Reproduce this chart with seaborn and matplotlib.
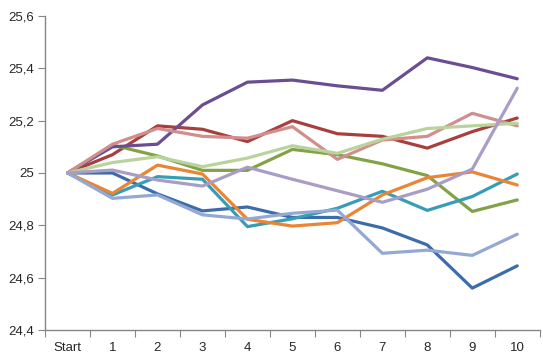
import pandas as pd
import seaborn as sbn
import matplotlib.pyplot as plt
from matplotlib.ticker import FixedLocator, FuncFormatter

# etiquetas del eje x
pasos = ["Start", "1", "2", "3", "4", "5", "6", "7", "8", "9", "10"]

serie_1 = [25.0, 25.0, 24.92, 24.855, 24.87, 24.83, 24.83, 24.79, 24.725, 24.56, 24.645]
serie_2 = [25.0, 25.07, 25.18, 25.167, 25.12, 25.2, 25.15, 25.14, 25.095, 25.158, 25.21]
serie_3 = [25.0, 25.107, 25.065, 25.01, 25.01, 25.09, 25.07, 25.035, 24.99, 24.853, 24.897]
serie_4 = [25.0, 25.1, 25.11, 25.26, 25.347, 25.355, 25.333, 25.316, 25.44, 25.403, 25.36]
serie_5 = [25.0, 24.916, 24.986, 24.976, 24.795, 24.825, 24.865, 24.93, 24.857, 24.91, 24.996]
serie_6 = [25.0, 24.922, 25.03, 24.996, 24.823, 24.797, 24.81, 24.916, 24.982, 25.004, 24.954]
serie_7 = [25.0, 24.903, 24.916, 24.84, 24.824, 24.846, 24.858, 24.693, 24.705, 24.685, 24.766]
serie_8 = [25.0, 25.11, 25.17, 25.14, 25.133, 25.177, 25.052, 25.126, 25.14, 25.228, 25.18]
serie_9 = [25.0, 25.04, 25.062, 25.024, 25.057, 25.104, 25.075, 25.129, 25.17, 25.18, 25.19]
serie_10 = [25.0, 25.011, 24.973, 24.95, 25.022, 24.976, 24.932, 24.888, 24.938, 25.015, 25.324]

series = [serie_1, serie_2, serie_3, serie_4, serie_5,
          serie_6, serie_7, serie_8, serie_9, serie_10]

colores = ["#3D6CAA", "#A83F3C", "#82A245", "#6A4E91", "#379DB6",
           "#E98534", "#93A9D3", "#D28E8C", "#B8D49C", "#A99CC5"]

# tabla larga para seaborn
filas = []
for i, valores in enumerate(series):
    for x, v in enumerate(valores):
        filas.append({"paso": x, "valor": v, "serie": f"S{i + 1}"})
datos = pd.DataFrame(filas)

sbn.set_style("white")
plt.rcParams["font.family"] = ["Liberation Sans", "DejaVu Sans"]

fig = plt.figure(figsize=(5.43, 3.63), dpi=100)
ax = fig.add_axes([0.083, 0.091, 0.911, 0.865])

sbn.lineplot(data=datos, x="paso", y="valor", hue="serie",
             palette=colores, linewidth=2.3, legend=False, ax=ax)

ax.set_xlim(-0.5, 10.5)
ax.set_ylim(24.4, 25.6)
ax.set_xlabel("")
ax.set_ylabel("")

# ticks del eje y con coma decimal
ax.set_yticks([24.4, 24.6, 24.8, 25.0, 25.2, 25.4, 25.6])
ax.yaxis.set_major_formatter(FuncFormatter(
    lambda v, p: f"{v:g}".replace(".", ",") if abs(v - round(v)) > 1e-9 else f"{v:.0f}"))

# eje x: marcas entre categorias, etiquetas centradas
ax.xaxis.set_major_locator(FixedLocator([x - 0.5 for x in range(12)]))
ax.xaxis.set_major_formatter(FuncFormatter(lambda v, p: ""))
ax.xaxis.set_minor_locator(FixedLocator(list(range(11))))
ax.set_xticklabels(pasos, minor=True)

for lado in ["top", "right"]:
    ax.spines[lado].set_visible(False)
for lado in ["left", "bottom"]:
    ax.spines[lado].set_color("#868686")
    ax.spines[lado].set_linewidth(1.0)

ax.tick_params(axis="y", which="major", direction="out", length=5,
               color="#868686", labelsize=9.5, pad=3, left=True)
ax.tick_params(axis="x", which="major", direction="out", length=5,
               color="#868686", bottom=True)
ax.tick_params(axis="x", which="minor", length=0, labelsize=9.5, pad=9)

plt.savefig("out.png", dpi=100)
